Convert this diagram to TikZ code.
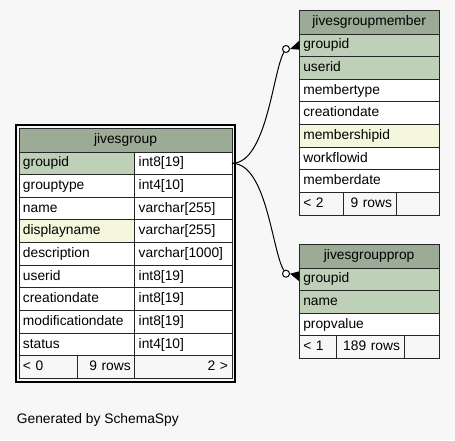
\documentclass[tikz,border=0pt]{standalone}
\usepackage{fontspec}
\newfontfamily\tabfont{Liberation Sans}
\usetikzlibrary{positioning,fit}

\definecolor{pagebg}{HTML}{F7F7F7}
\definecolor{headbg}{HTML}{9BAB96}
\definecolor{keybg}{HTML}{BED1B8}
\definecolor{idxbg}{HTML}{F4F7DC}

\begin{document}
\begin{tikzpicture}[x=1pt, y=-1pt,
  font=\tabfont\fontsize{13.8}{16}\selectfont,
  cell/.style={draw=black!85, line width=1pt, fill=white, outer sep=0pt,
    inner xsep=4pt, inner ysep=0pt, minimum height=22.65pt,
    text height=10pt, text depth=3pt, align=left},
  head/.style={cell, fill=headbg, minimum height=24pt, align=center},
  foot/.style={cell, fill=pagebg},
  key/.style={fill=keybg},
  idx/.style={fill=idxbg},
  frame/.style={draw=black, line width=2pt, inner sep=3pt},
  dot/.style={circle, draw=black, fill=white, line width=1pt, minimum size=7pt, inner sep=0pt},
  link/.style={draw=black, line width=1pt}
]

\useasboundingbox (0,0) rectangle (455,440);
\fill[pagebg] (0,0) rectangle (455,440);

% --- jivesgroup ---
\node[head, anchor=north west, text width=205pt] (g-head) at (19,128) {jivesgroup};
\node[cell, key, text width=107.7pt, below=0pt of g-head.south west, anchor=north west] (g-groupid) {groupid};
\node[cell, text width=107.7pt, below=0pt of g-groupid] (g-grouptype) {grouptype};
\node[cell, text width=107.7pt, below=0pt of g-grouptype] (g-name) {name};
\node[cell, idx, text width=107.7pt, below=0pt of g-name] (g-displayname) {displayname};
\node[cell, text width=107.7pt, below=0pt of g-displayname] (g-description) {description};
\node[cell, text width=107.7pt, below=0pt of g-description] (g-userid) {userid};
\node[cell, text width=107.7pt, below=0pt of g-userid] (g-creationdate) {creationdate};
\node[cell, text width=107.7pt, below=0pt of g-creationdate] (g-modificationdate) {modificationdate};
\node[cell, text width=107.7pt, below=0pt of g-modificationdate] (g-status) {status};

\node[cell, text width=89.3pt, right=0pt of g-groupid] (g-groupid-t) {int8[19]};
\node[cell, text width=89.3pt, right=0pt of g-grouptype] (g-grouptype-t) {int4[10]};
\node[cell, text width=89.3pt, right=0pt of g-name] (g-name-t) {varchar[255]};
\node[cell, text width=89.3pt, right=0pt of g-displayname] (g-displayname-t) {varchar[255]};
\node[cell, text width=89.3pt, right=0pt of g-description] (g-description-t) {varchar[1000]};
\node[cell, text width=89.3pt, right=0pt of g-userid] (g-userid-t) {int8[19]};
\node[cell, text width=89.3pt, right=0pt of g-creationdate] (g-creationdate-t) {int8[19]};
\node[cell, text width=89.3pt, right=0pt of g-modificationdate] (g-modificationdate-t) {int8[19]};
\node[cell, text width=89.3pt, right=0pt of g-status] (g-status-t) {int4[10]};

\node[foot, text width=50.3pt, below=0pt of g-status.south west, anchor=north west] (g-parents) {< 0};
\node[foot, text width=49.4pt, align=right, right=0pt of g-parents] (g-rows) {9 rows};
\node[foot, text width=89.3pt, align=right, right=0pt of g-rows] (g-children) {2 >};

\node[frame, fit=(g-head)(g-children)] (g-frame) {};

% --- jivesgroupmember ---
\node[head, anchor=north west, text width=131.7pt] (m-head) at (299.3,10) {jivesgroupmember};
\node[cell, key, text width=131.7pt, below=0pt of m-head] (m-groupid) {groupid};
\node[cell, key, text width=131.7pt, below=0pt of m-groupid] (m-userid) {userid};
\node[cell, text width=131.7pt, below=0pt of m-userid] (m-membertype) {membertype};
\node[cell, text width=131.7pt, below=0pt of m-membertype] (m-creationdate) {creationdate};
\node[cell, idx, text width=131.7pt, below=0pt of m-creationdate] (m-membershipid) {membershipid};
\node[cell, text width=131.7pt, below=0pt of m-membershipid] (m-workflowid) {workflowid};
\node[cell, text width=131.7pt, below=0pt of m-workflowid] (m-memberdate) {memberdate};

\node[foot, text width=36.4pt, below=0pt of m-memberdate.south west, anchor=north west] (m-parents) {< 2};
\node[foot, text width=44.3pt, align=right, right=0pt of m-parents] (m-rows) {9 rows};
\node[foot, text width=35pt, right=0pt of m-rows] (m-children) {};

% --- jivesgroupprop ---
\node[head, anchor=north west, text width=131.7pt] (p-head) at (299.3,244) {jivesgroupprop};
\node[cell, key, text width=131.7pt, below=0pt of p-head] (p-groupid) {groupid};
\node[cell, key, text width=131.7pt, below=0pt of p-groupid] (p-name) {name};
\node[cell, text width=131.7pt, below=0pt of p-name] (p-propvalue) {propvalue};

\node[foot, text width=28.7pt, below=0pt of p-propvalue.south west, anchor=north west] (p-parents) {< 1};
\node[foot, text width=60pt, align=right, right=0pt of p-parents] (p-rows) {189 rows};
\node[foot, text width=27pt, right=0pt of p-rows] (p-children) {};

% --- Relations (groupid) ---
\node[dot] (m-dot) at (286,49) {};
\node[dot] (p-dot) at (286,273.7) {};

\draw[link] (g-groupid-t.east) .. controls +(35,0) and +(-13,21) .. (m-dot);
\draw[link] (g-groupid-t.east) .. controls +(35,0) and +(-14,-22) .. (p-dot);

\fill (m-dot.east) -- ([yshift=4.7pt]m-groupid.west) -- ([yshift=-4.3pt]m-groupid.west) -- cycle;
\fill (p-dot.east) -- ([yshift=8pt]p-groupid.west) -- ([yshift=-2pt]p-groupid.west) -- cycle;

% Footer
\node[anchor=base west, inner sep=0pt] (credit) at (16.7,423.3) {Generated by SchemaSpy};

\end{tikzpicture}
\end{document}
